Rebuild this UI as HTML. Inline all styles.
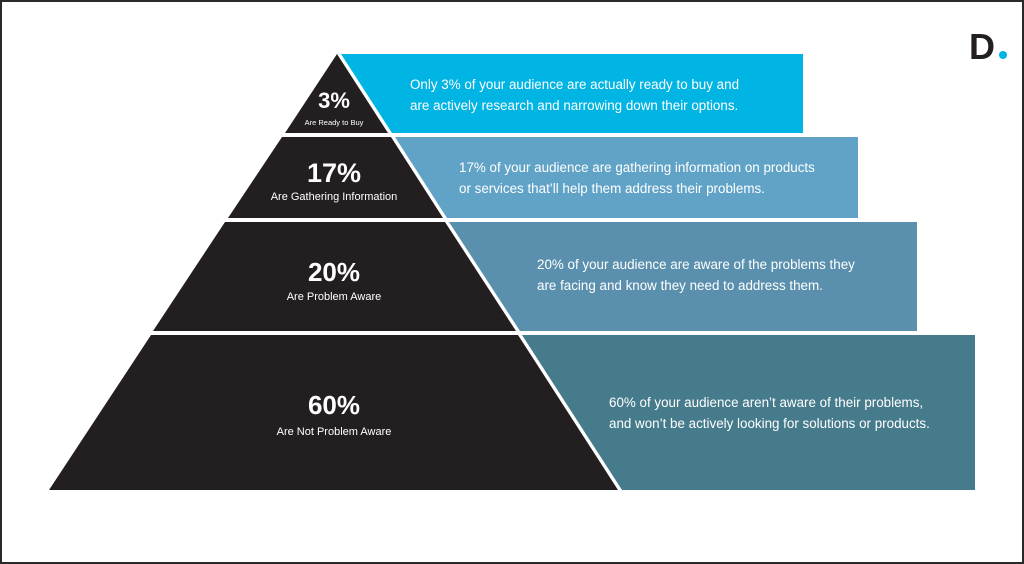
<!DOCTYPE html>
<html><head><meta charset="utf-8"><style>
html,body{margin:0;padding:0;width:1024px;height:564px;overflow:hidden;background:#fff}
svg{display:block}
text{font-family:"Liberation Sans",sans-serif;fill:#fff}
</style></head><body>
<svg width="1024" height="564" viewBox="0 0 1024 564" xmlns="http://www.w3.org/2000/svg">
<rect x="1" y="1" width="1022" height="562" fill="#fff" stroke="#2a2a2a" stroke-width="2"/>
<polygon points="337,54 388,133 285,133" fill="#231f20"/>
<polygon points="282,137 391,137 443,218 228,218" fill="#231f20"/>
<polygon points="225,222 445,222 516,331 153,331" fill="#231f20"/>
<polygon points="151,335 518,335 618,490 49,490" fill="#231f20"/>
<polygon points="341,54 803,54 803,133 392,133" fill="#00b4e3"/>
<polygon points="395,137 858,137 858,218 447,218" fill="#61a3c7"/>
<polygon points="449,222 917,222 917,331 520,331" fill="#5a90ad"/>
<polygon points="522,335 975,335 975,490 622,490" fill="#467b8c"/>
<text x="334" y="108" font-size="22" font-weight="bold" text-anchor="middle">3%</text>
<text x="334" y="125" font-size="7.5" text-anchor="middle">Are Ready to Buy</text>
<text x="334" y="182" font-size="27" font-weight="bold" text-anchor="middle">17%</text>
<text x="334" y="200" font-size="11" text-anchor="middle">Are Gathering Information</text>
<text x="334" y="281" font-size="26" font-weight="bold" text-anchor="middle">20%</text>
<text x="334" y="300" font-size="11" text-anchor="middle">Are Problem Aware</text>
<text x="334" y="414" font-size="26" font-weight="bold" text-anchor="middle">60%</text>
<text x="334" y="435" font-size="11" text-anchor="middle">Are Not Problem Aware</text>
<text x="410" y="89" font-size="13.4">Only 3% of your audience are actually ready to buy and</text>
<text x="410" y="110" font-size="13.4">are actively research and narrowing down their options.</text>
<text x="459" y="172" font-size="13.4">17% of your audience are gathering information on products</text>
<text x="459" y="193" font-size="13.4">or services that’ll help them address their problems.</text>
<text x="537" y="269" font-size="13.4">20% of your audience are aware of the problems they</text>
<text x="537" y="290" font-size="13.4">are facing and know they need to address them.</text>
<text x="609" y="407" font-size="13.4">60% of your audience aren’t aware of their problems,</text>
<text x="609" y="428" font-size="13.4">and won’t be actively looking for solutions or products.</text>
<text x="969" y="59" font-size="36" font-weight="bold" style="fill:#231f20">D</text>
<circle cx="1003" cy="55" r="4" fill="#00b4e3"/>
</svg>
</body></html>
